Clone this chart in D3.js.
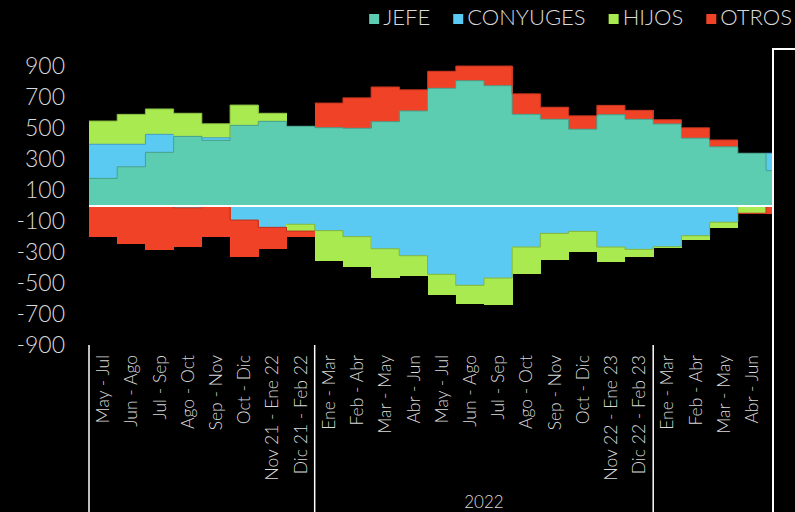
<!DOCTYPE html>
<html>
<head>
<meta charset="utf-8">
<script src="https://cdn.jsdelivr.net/npm/d3@7"></script>
<style>
  html, body { margin: 0; padding: 0; background: #000; }
  svg { display: block; }
  text { font-family: Lato, "Open Sans", sans-serif; fill: #d9d9d9; }
</style>
</head>
<body>
<svg id="chart" width="795" height="512"></svg>
<script>
// ---------- DATA ----------
const categories = ["May - Jul","Jun - Ago","Jul - Sep","Ago - Oct","Sep - Nov","Oct - Dic",
  "Nov 21 - Ene 22","Dic 21 - Feb 22","Ene - Mar","Feb - Abr","Mar - May","Abr - Jun",
  "May - Jul","Jun - Ago","Jul - Sep","Ago - Oct","Sep - Nov","Oct - Dic",
  "Nov 22 - Ene 23","Dic 22 - Feb 23","Ene - Mar","Feb - Abr","Mar - May","Abr - Jun","May - Jul"];
const groupStarts = [0, 8, 20];
const groupEnds   = [8, 20, 32];
const groupLabels = ["", "2022", ""];
const seriesNames = ["JEFE", "CONYUGES", "HIJOS", "OTROS"];
const seriesColors = ["#5ccdb1", "#5bcaf2", "#a8ea50", "#f04227"];

// positive side
const jefePos  = [175,250,343,446,420,517,543,511,502,498,541,610,756,805,773,588,556,492,586,556,526,434,379,337,225];
const conyPos  = [220,145,116,0,17,0,0,0,0,0,0,0,0,0,0,0,0,0,0,0,0,0,0,0,112];
const hijosPos = [150,193,164,149,91,131,52,0,0,0,0,0,0,0,0,0,0,0,0,0,0,0,0,0,0];
const otrosPos = [0,0,0,0,0,0,0,0,159,197,224,137,110,95,127,133,78,87,60,58,28,68,44,0,0];
// negative side
const jefeNeg  = [0,0,0,0,0,0,0,0,0,0,0,0,0,0,0,0,0,0,0,0,0,0,0,0,0];
const conyNeg  = [0,0,0,-15,0,-94,-141,-121,-162,-201,-279,-324,-444,-515,-468,-268,-180,-167,-268,-283,-266,-195,-108,0,0];
const hijosNeg = [0,0,0,0,0,0,0,-44,-194,-196,-191,-131,-131,-119,-172,-174,-174,-133,-99,-51,-11,-26,-35,-50,0];
const otrosNeg = [-200,-248,-289,-251,-203,-236,-140,-36,0,0,0,0,0,0,0,0,0,0,0,0,0,0,0,-5,-57];
const yTicks = [900,700,500,300,100,-100,-300,-500,-700,-900];

// ---------- BUILD ----------
const keys = ["jp","cp","hp","op","jn","cn","hn","on"];
const keyColor = {jp:0,cp:1,hp:2,op:3,jn:0,cn:1,hn:2,on:3};
const table = categories.map((c, i) => ({
  i, jp: jefePos[i], cp: conyPos[i], hp: hijosPos[i], op: otrosPos[i],
  jn: jefeNeg[i], cn: conyNeg[i], hn: hijosNeg[i], on: otrosNeg[i]
}));
const stacked = d3.stack().keys(keys).offset(d3.stackOffsetDiverging)(table);

const svg = d3.select("#chart");
const x = d3.scaleBand().domain(d3.range(categories.length)).range([89, 89 + 28.21 * categories.length]).padding(0);
const y = d3.scaleLinear().domain([-900, 900]).range([345, 66]);

// bars
const layers = svg.append("g");
stacked.forEach(s => {
  const col = seriesColors[keyColor[s.key]];
  layers.append("g").selectAll("rect").data(s.filter(d => d[1] !== d[0])).join("rect")
    .attr("x", d => x(d.data.i))
    .attr("width", x.bandwidth() + 0.5)
    .attr("y", d => y(Math.max(d[0], d[1])))
    .attr("height", d => Math.abs(y(d[0]) - y(d[1])))
    .attr("fill", col)
    .attr("shape-rendering", "crispEdges");
});
// outlines (step edges)
stacked.forEach(s => {
  const col = d3.color(seriesColors[keyColor[s.key]]).darker(0.7);
  const pts = [];
  s.forEach(d => {
    const def = d[1] !== d[0];
    pts.push({x: x(d.data.i), y: y(d[1]), def});
    pts.push({x: x(d.data.i) + x.bandwidth(), y: y(d[1]), def});
  });
  const line = d3.line().defined(p => p.def).x(p => p.x).y(p => p.y);
  layers.append("path").attr("d", line(pts)).attr("fill", "none")
    .attr("stroke", col.formatHex()).attr("stroke-width", 1);
});

// zero line
svg.append("line").attr("x1", x(0)).attr("x2", 772).attr("y1", y(0) + 0.5).attr("y2", y(0) + 0.5)
  .attr("stroke", "#fff").attr("stroke-width", 2);

// y axis labels
svg.append("g").selectAll("text").data(yTicks).join("text")
  .attr("x", 65).attr("y", d => y(d)).attr("dy", "0.35em")
  .attr("text-anchor", "end").attr("font-size", 23).attr("font-weight", 300)
  .text(d => d);

// x category labels
svg.append("g").selectAll("text").data(categories.map((c, i) => ({c, i}))).join("text")
  .attr("transform", d => `translate(${x(d.i) + x.bandwidth() / 2},355) rotate(-90)`)
  .attr("dy", "0.35em").attr("text-anchor", "end").attr("font-size", 17.5).attr("font-weight", 300)
  .text(d => d.c);

// group separators
groupStarts.forEach(s => {
  svg.append("line").attr("x1", x(s)).attr("x2", x(s)).attr("y1", 345).attr("y2", 512)
    .attr("stroke", "#fff").attr("stroke-width", 1.5);
});
groupLabels.forEach((g, k) => {
  if (!g) return;
  const cx = (x(groupStarts[k]) + x(groupEnds[k] - 1) + x.bandwidth()) / 2;
  svg.append("text").attr("x", cx).attr("y", 508).attr("text-anchor", "middle")
    .attr("font-size", 17).attr("font-weight", 300).text(g);
});

// right frame
svg.append("rect").attr("x", 773).attr("y", 49).attr("width", 60).attr("height", 500)
  .attr("fill", "#000").attr("stroke", "#fff").attr("stroke-width", 2);

// legend (right-aligned, ending at x=792)
const lg = svg.append("g");
const items = seriesNames.map((n, k) => {
  const r = lg.append("rect").attr("y", 14).attr("width", 10).attr("height", 10).attr("fill", seriesColors[k]);
  const t = lg.append("text").attr("y", 25).attr("font-size", 22).attr("font-weight", 300).text(n);
  return {r, t, w: t.node().getComputedTextLength()};
});
let rx = 792;
for (let k = items.length - 1; k >= 0; k--) {
  const it = items[k];
  const tx = rx - it.w;
  it.t.attr("x", tx);
  it.r.attr("x", tx - 14);
  rx = tx - 14 - 23;
}
</script>
</body>
</html>
